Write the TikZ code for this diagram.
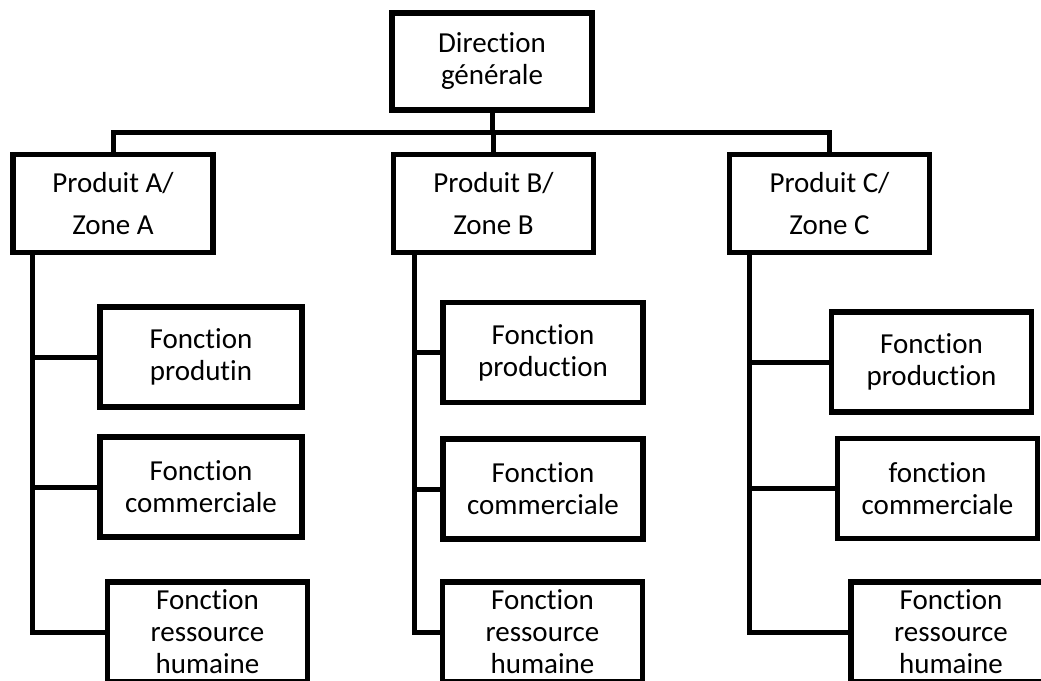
\documentclass[tikz,border=0pt]{standalone}
\usepackage{fontspec}
\setmainfont{Carlito}[Ligatures={NoCommon,NoRare}]
\begin{document}
\begin{tikzpicture}[x=1pt,y=-1pt,
  box/.style={draw=black, line width=5.5pt, fill=white, outer sep=0pt, inner sep=2pt,
    minimum width=200pt, minimum height=100pt, align=center,
    font={\fontsize{29}{32}\selectfont}},
  topbox/.style={box, minimum height=98pt, font={\fontsize{29}{42}\selectfont}},
  link/.style={draw=black, line width=5pt, line join=miter}]
\useasboundingbox (0,0) rectangle (1041,680);
\fill[white] (0,0) rectangle (1041,680);
\clip (0,0) rectangle (1041,680);

% guide coordinates: horizontal bus and the three vertical trunks
\coordinate (bus) at (0,132);
\coordinate (ta) at (32,632);
\coordinate (tb) at (414,632);
\coordinate (tc) at (749,632);

% general management
\node[box, minimum height=97pt] (dg) at (492,61.5) {Direction\\générale};

% product / zone divisions
\node[topbox] (pa) at (113,203.5) {Produit A/\\Zone A};
\node[topbox] (pb) at (493.5,203.5) {Produit B/\\Zone B};
\node[topbox] (pc) at (829.5,203.5) {Produit C/\\Zone C};

% functions of division A
\node[box, minimum width=202pt] (fa1) at (201,357) {Fonction\\produtin};
\node[box, minimum width=202pt] (fa2) at (201,487) {Fonction\\commerciale};
\node[box] (fa3) at (207.5,632) {Fonction\\ressource\\humaine};

% functions of division B
\node[box] (fb1) at (543,352.5) {Fonction\\production};
\node[box] (fb2) at (543,489) {Fonction\\commerciale};
\node[box] (fb3) at (542.5,632) {Fonction\\ressource\\humaine};

% functions of division C
\node[box] (fc1) at (931.5,362) {Fonction\\production};
\node[box] (fc2) at (937.5,488.5) {fonction\\commerciale};
\node[box] (fc3) at (951,632) {Fonction\\ressource\\humaine};

% top level connectors
\draw[link] (dg.south) -- (dg.south |- bus);
\draw[link] (pa.north) -- (pa.north |- bus) -- (pc.north |- bus) -- (pc.north);
\draw[link] (pb.north) -- (pb.north |- bus);

% division A connectors
\draw[link] (pa.south -| ta) |- (fa3.west);
\draw[link] (fa1.west -| ta) -- (fa1.west);
\draw[link] (fa2.west -| ta) -- (fa2.west);

% division B connectors
\draw[link] (pb.south -| tb) |- (fb3.west);
\draw[link] (fb1.west -| tb) -- (fb1.west);
\draw[link] (fb2.west -| tb) -- (fb2.west);

% division C connectors
\draw[link] (pc.south -| tc) |- (fc3.west);
\draw[link] (fc1.west -| tc) -- (fc1.west);
\draw[link] (fc2.west -| tc) -- (fc2.west);
\end{tikzpicture}
\end{document}
